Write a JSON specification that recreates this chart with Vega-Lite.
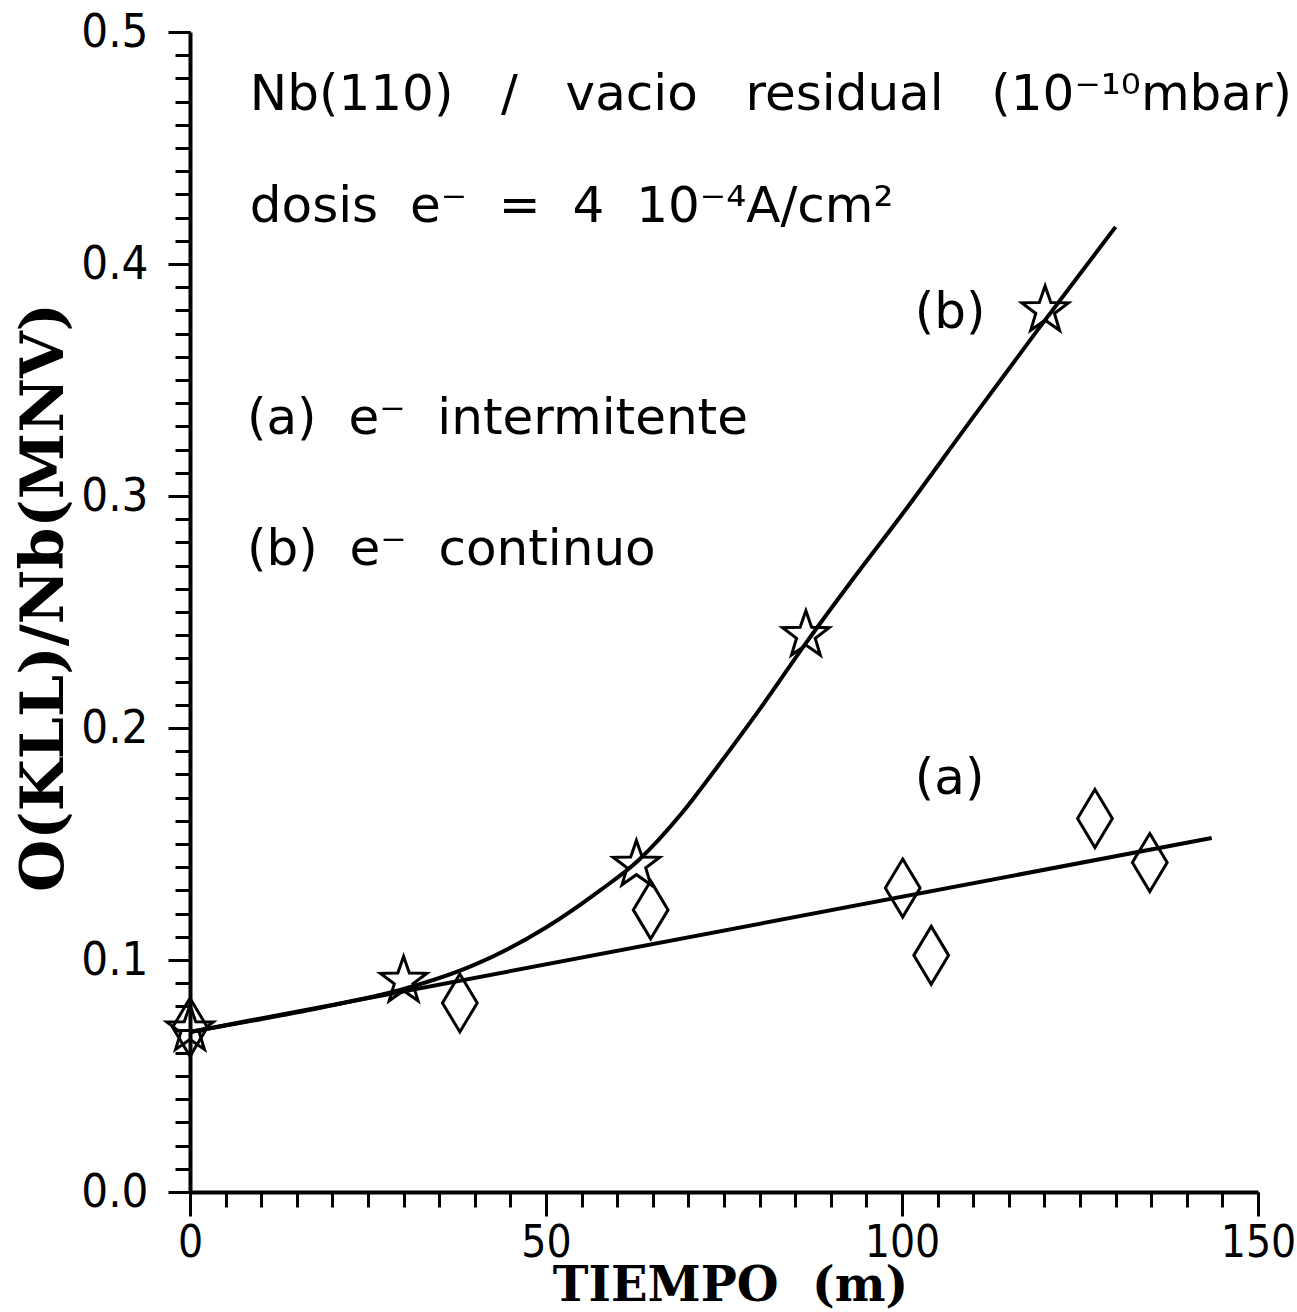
{
  "$schema": "https://vega.github.io/schema/vega-lite/v6.json",
  "width": 1068,
  "height": 1160,
  "autosize": "none",
  "padding": {"left": 190, "top": 32, "right": 39, "bottom": 120},
  "background": "white",
  "config": {
    "view": {"stroke": null},
    "axis": {"grid": false, "domainColor": "black", "tickColor": "black", "labelColor": "black", "titleColor": "black"}
  },
  "datasets": {
    "points": [
      {"serie": "b", "t": 0, "r": 0.07},
      {"serie": "b", "t": 30, "r": 0.091},
      {"serie": "b", "t": 62.7, "r": 0.141},
      {"serie": "b", "t": 86.5, "r": 0.240},
      {"serie": "b", "t": 120.1, "r": 0.380},
      {"serie": "a", "t": 0, "r": 0.071},
      {"serie": "a", "t": 37.9, "r": 0.0815},
      {"serie": "a", "t": 64.7, "r": 0.1216},
      {"serie": "a", "t": 100.1, "r": 0.131},
      {"serie": "a", "t": 104.1, "r": 0.102},
      {"serie": "a", "t": 127.1, "r": 0.161},
      {"serie": "a", "t": 134.8, "r": 0.142}
    ],
    "fitA": [
      {"t": 0, "r": 0.069},
      {"t": 143.5, "r": 0.1526}
    ],
    "fitB": [
      {"t": 0, "r": 0.069},
      {"t": 10, "r": 0.0745},
      {"t": 20, "r": 0.0805},
      {"t": 30, "r": 0.0875},
      {"t": 40, "r": 0.098},
      {"t": 50, "r": 0.114},
      {"t": 57.6, "r": 0.130},
      {"t": 63, "r": 0.143},
      {"t": 69, "r": 0.163},
      {"t": 74, "r": 0.183},
      {"t": 80, "r": 0.208},
      {"t": 86.6, "r": 0.237},
      {"t": 92.7, "r": 0.2625},
      {"t": 100, "r": 0.292},
      {"t": 110, "r": 0.334},
      {"t": 119.4, "r": 0.373},
      {"t": 130, "r": 0.416}
    ],
    "notes": [
      {"txt": "Nb(110)\u00a0\u00a0\u00a0/\u00a0\u00a0\u00a0vacio\u00a0\u00a0\u00a0residual\u00a0\u00a0\u00a0(10⁻¹⁰mbar)", "t": 8.4, "r": 0.473},
      {"txt": "dosis\u00a0\u00a0e⁻\u00a0\u00a0=\u00a0\u00a04\u00a0\u00a010⁻⁴A/cm²", "t": 8.4, "r": 0.4246},
      {"txt": "(a)\u00a0\u00a0e⁻\u00a0\u00a0intermitente", "t": 8.0, "r": 0.333},
      {"txt": "(b)\u00a0\u00a0e⁻\u00a0\u00a0continuo", "t": 8.0, "r": 0.2767},
      {"txt": "(b)", "t": 101.8, "r": 0.379},
      {"txt": "(a)", "t": 101.8, "r": 0.178}
    ]
  },
  "resolve": {"axis": {"x": "independent", "y": "independent"}},
  "layer": [
    {
      "data": {"name": "fitA"},
      "mark": {"type": "line", "color": "black", "strokeWidth": 4},
      "encoding": {
        "x": {"field": "t", "type": "quantitative", "scale": {"domain": [0, 150], "nice": false},
          "axis": {"orient": "bottom", "values": [0, 50, 100, 150], "tickSize": 24, "tickWidth": 3, "domainWidth": 4,
            "labelFont": "Liberation Sans Narrow, DejaVu Sans Condensed, Roboto", "labelFontSize": 44, "labelPadding": 5, "labelFlush": false,
            "title": "TIEMPO\u00a0\u00a0(m)", "titleFont": "DejaVu Serif", "titleFontSize": 48, "titleFontWeight": "bold",
            "titleX": 540, "titleY": 108, "titleAlign": "center", "titleBaseline": "alphabetic"}},
        "y": {"field": "r", "type": "quantitative", "scale": {"domain": [0, 0.5], "nice": false},
          "axis": {"orient": "left", "values": [0, 0.1, 0.2, 0.3, 0.4, 0.5], "format": ".1f", "tickSize": 22, "tickWidth": 3, "domainWidth": 4,
            "labelFont": "Liberation Sans Narrow, DejaVu Sans Condensed, Roboto", "labelFontSize": 47, "labelPadding": 20, "labelFlush": false,
            "title": "O(KLL)/Nb(MNV)", "titleFont": "DejaVu Serif", "titleFontSize": 60, "titleFontWeight": "bold",
            "titleAngle": -90, "titleX": -146, "titleY": 565, "titleAlign": "center", "titleBaseline": "middle"}}
      }
    },
    {
      "data": {"name": "fitB"},
      "mark": {"type": "line", "color": "black", "strokeWidth": 4, "interpolate": "monotone"},
      "encoding": {
        "x": {"field": "t", "type": "quantitative",
          "axis": {"orient": "bottom", "tickCount": 30, "tickSize": 15, "tickWidth": 3, "labels": false, "domain": false, "title": null}},
        "y": {"field": "r", "type": "quantitative",
          "axis": {"orient": "left", "tickCount": 50, "tickSize": 15, "tickWidth": 3, "labels": false, "domain": false, "title": null}}
      }
    },
    {
      "data": {"name": "points"},
      "mark": {"type": "point", "filled": false, "stroke": "black", "strokeWidth": 3, "opacity": 1},
      "encoding": {
        "x": {"field": "t", "type": "quantitative", "axis": null},
        "y": {"field": "r", "type": "quantitative", "axis": null},
        "shape": {"field": "serie", "type": "nominal", "legend": null,
          "scale": {"domain": ["a", "b"], "range": ["M0,-1L0.6,0L0,1L-0.6,0Z", "M0,-1L0.235,-0.324L0.951,-0.309L0.380,0.124L0.588,0.809L0,0.4L-0.588,0.809L-0.380,0.124L-0.951,-0.309L-0.235,-0.324Z"]}},
        "size": {"field": "serie", "type": "nominal", "legend": null,
          "scale": {"domain": ["a", "b"], "range": [3364, 2400]}}
      }
    },
    {
      "data": {"name": "notes"},
      "mark": {"type": "text", "align": "left", "baseline": "middle", "font": "DejaVu Sans", "fontSize": 50, "color": "black"},
      "encoding": {
        "x": {"field": "t", "type": "quantitative", "axis": null},
        "y": {"field": "r", "type": "quantitative", "axis": null},
        "text": {"field": "txt"}
      }
    }
  ]
}
